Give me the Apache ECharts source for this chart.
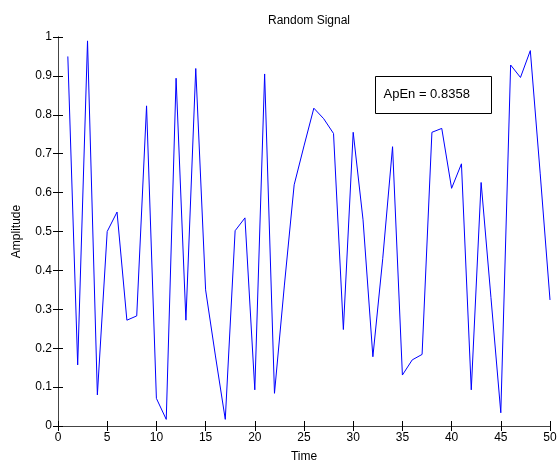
<!DOCTYPE html>
<html>
<head>
<meta charset="utf-8">
<script src="https://cdn.jsdelivr.net/npm/echarts@6/dist/echarts.min.js"></script>
<style>html,body{margin:0;padding:0;background:#fff;}#c{width:558px;height:464px;}</style>
</head>
<body>
<div id="c"></div>
<script>
var times = [];
for (var i = 1; i <= 50; i++) times.push(i);
var amplitude = [
  0.95, 0.157, 0.99, 0.08, 0.50, 0.55, 0.272, 0.283, 0.823, 0.071,
  0.017, 0.894, 0.272, 0.919, 0.35, 0.18, 0.017, 0.502, 0.535, 0.093,
  0.905, 0.084, 0.36, 0.62, 0.72, 0.817, 0.79, 0.752, 0.248, 0.755,
  0.53, 0.178, 0.43, 0.718, 0.131, 0.170, 0.184, 0.755, 0.765, 0.611,
  0.674, 0.093, 0.626, 0.33, 0.034, 0.928, 0.896, 0.965, 0.65, 0.324
];
var xTicks = [0, 5, 10, 15, 20, 25, 30, 35, 40, 45, 50];
var yTicks = [0, 0.1, 0.2, 0.3, 0.4, 0.5, 0.6, 0.7, 0.8, 0.9, 1];
var annotation = 'ApEn = 0.8358';

var data = times.map(function (t, i) { return [t, amplitude[i]]; });
var font = 'Liberation Sans, Arial, sans-serif';
var axisLine = { show: true, lineStyle: { color: '#444', width: 1 } };
var tick = { show: true, inside: true, length: 5, lineStyle: { color: '#000' } };

var chart = echarts.init(document.getElementById('c'), null, { renderer: 'canvas' });
chart.setOption({
  animation: false,
  backgroundColor: '#fff',
  title: {
    text: 'Random Signal', left: 304, top: 10, textAlign: 'center',
    textStyle: { fontFamily: font, fontSize: 12, fontWeight: 'normal', color: '#000' }
  },
  grid: { left: 58, right: 8, top: 37, bottom: 38, containLabel: false, outerBoundsMode: 'none' },
  xAxis: [{
    type: 'value', min: 0, max: 50, interval: 5,
    name: 'Time', nameLocation: 'middle', nameGap: 25,
    nameTextStyle: { fontFamily: font, fontSize: 12, color: '#000' },
    axisLine: axisLine, axisTick: tick, splitLine: { show: false },
    axisLabel: { fontFamily: font, fontSize: 12, color: '#000', margin: 6 }
  }, {
    type: 'value', min: 0, max: 50, interval: 5, position: 'top',
    axisLine: axisLine, axisTick: tick, splitLine: { show: false },
    axisLabel: { show: false }
  }],
  yAxis: [{
    type: 'value', min: 0, max: 1, interval: 0.1,
    name: 'Amplitude', nameLocation: 'middle', nameGap: 35, nameRotate: 90,
    nameTextStyle: { fontFamily: font, fontSize: 12, color: '#000' },
    axisLine: axisLine, axisTick: tick, splitLine: { show: false },
    axisLabel: {
      fontFamily: font, fontSize: 12, color: '#000', margin: 6,
      formatter: function (v) { return String(Math.round(v * 10) / 10); }
    }
  }, {
    type: 'value', min: 0, max: 1, interval: 0.1, position: 'right',
    axisLine: axisLine, axisTick: tick, splitLine: { show: false },
    axisLabel: { show: false }
  }],
  series: [{
    type: 'line', data: data, xAxisIndex: 0, yAxisIndex: 0,
    showSymbol: false, symbol: 'none',
    lineStyle: { color: '#0000ff', width: 1 }
  }],
  graphic: [{
    type: 'group', left: 375, top: 76,
    children: [{
      type: 'rect', shape: { x: 0, y: 0, width: 116, height: 37 },
      style: { fill: '#fff', stroke: '#000', lineWidth: 1 }
    }, {
      type: 'text', x: 8, y: 18,
      style: { text: annotation, font: '13px ' + font, fill: '#000', textVerticalAlign: 'middle' }
    }]
  }]
});
</script>
</body>
</html>
